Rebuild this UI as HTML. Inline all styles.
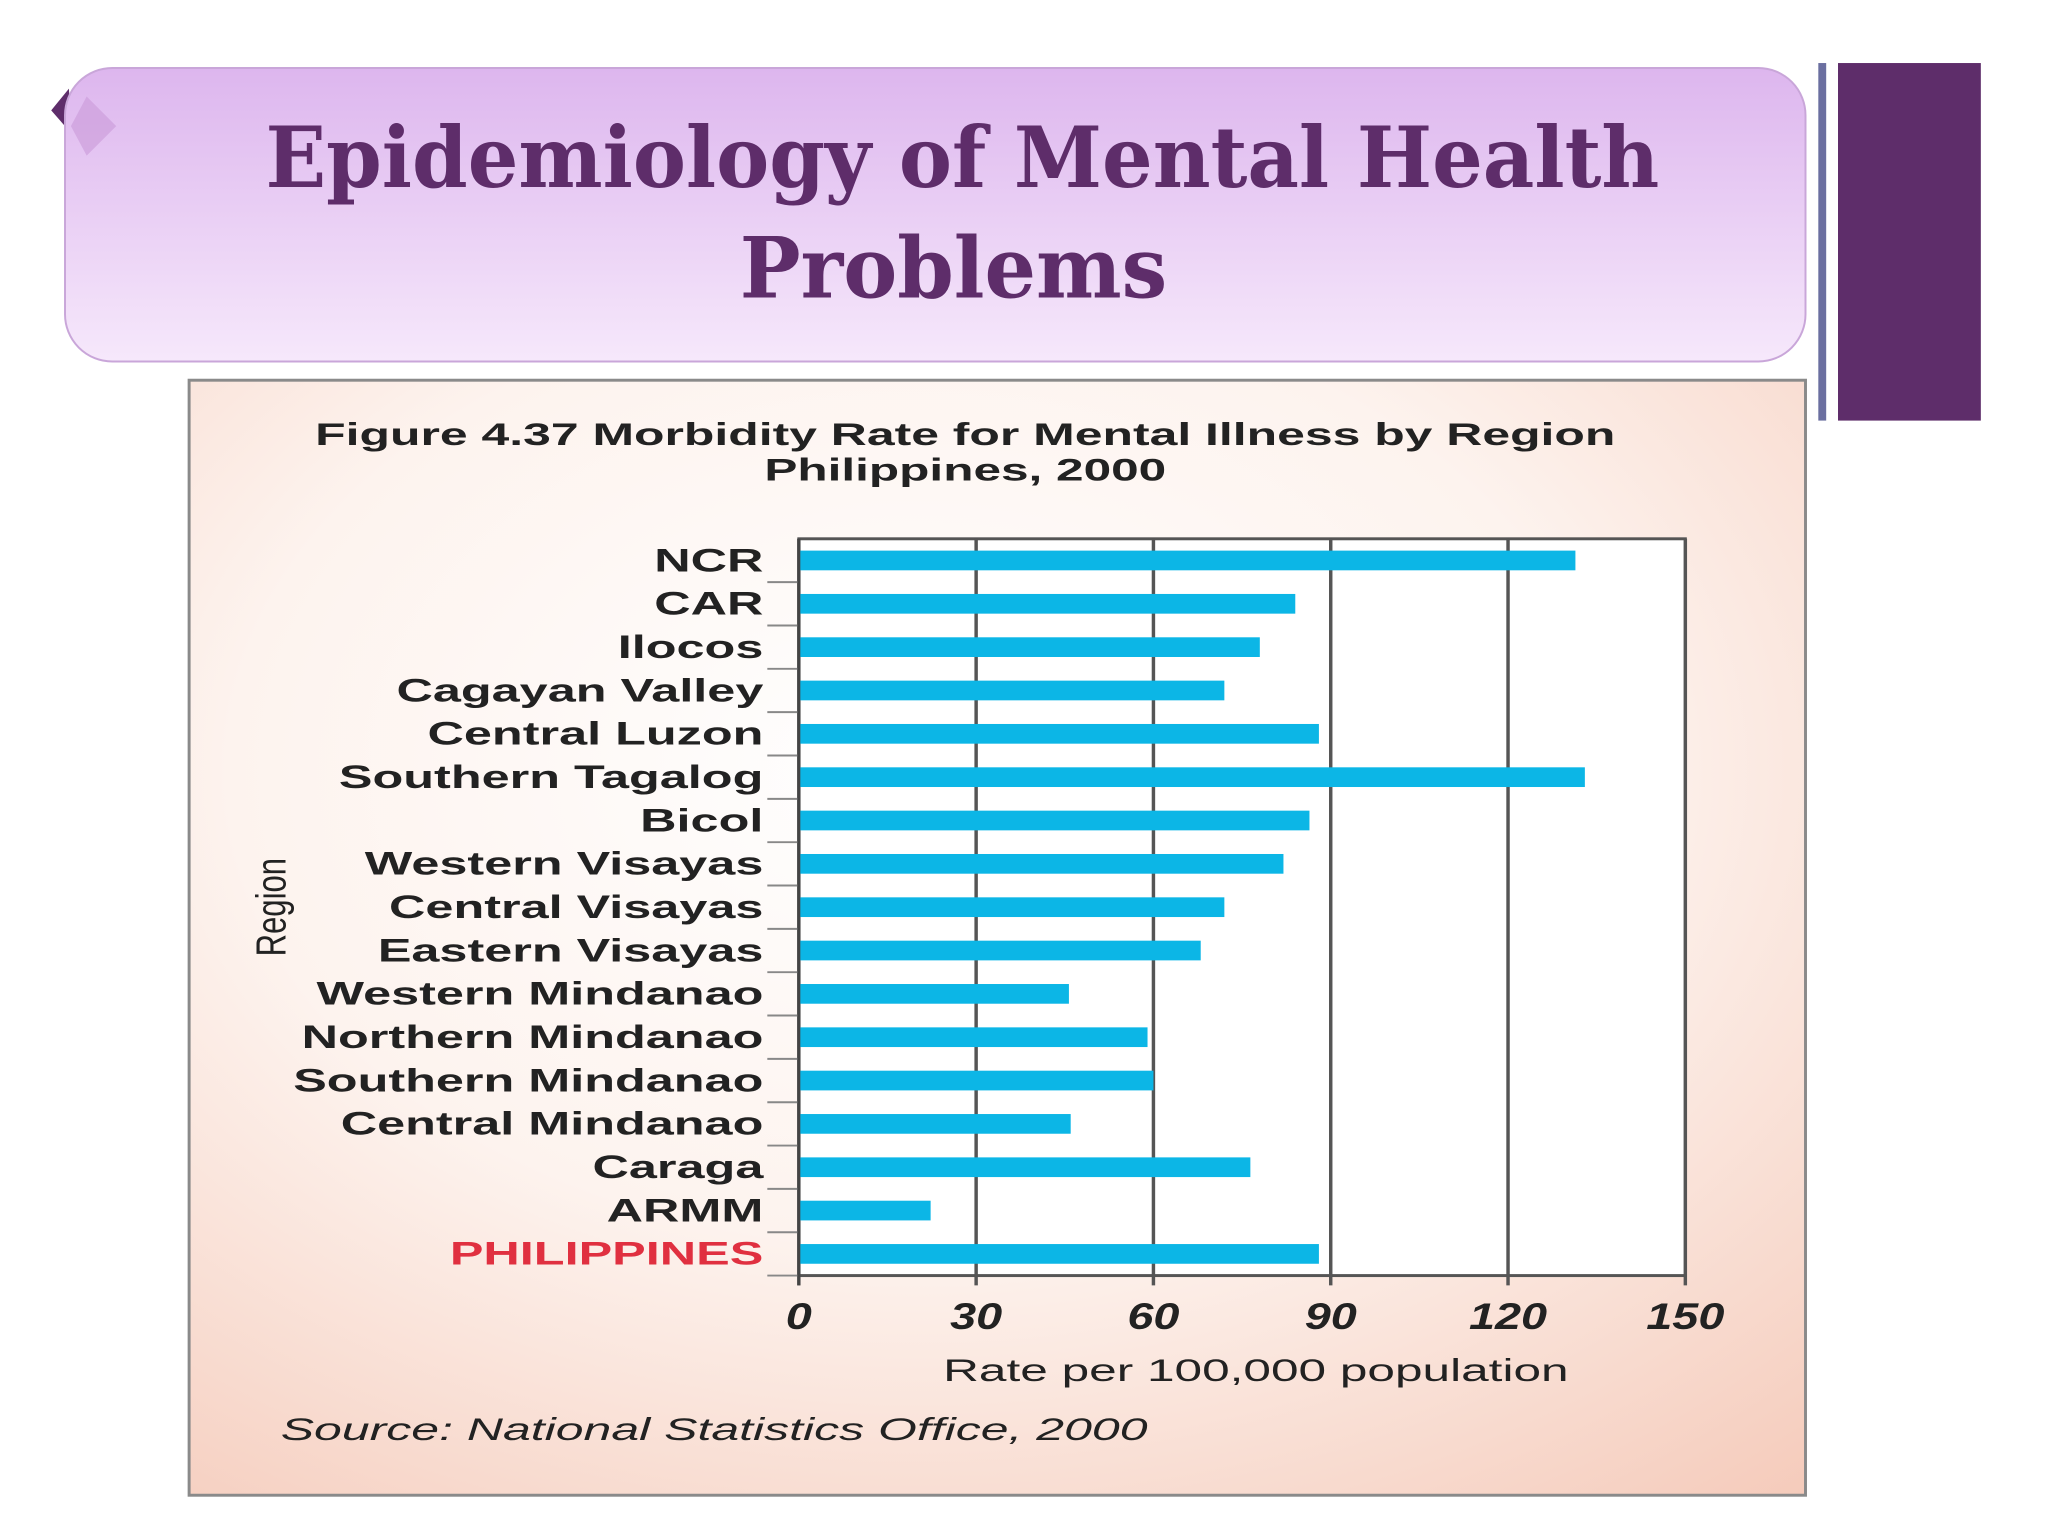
<!DOCTYPE html>
<html><head><meta charset="utf-8"><style>
html,body{margin:0;padding:0;background:#fff;}
svg{display:block;}
</style></head><body>
<svg width="2048" height="1536" viewBox="0 0 2048 1536" xmlns="http://www.w3.org/2000/svg">
<defs>
<linearGradient id="tg" x1="0" y1="0" x2="0" y2="1"><stop offset="0" stop-color="#ddb6ee"/><stop offset="1" stop-color="#f6e8fb"/></linearGradient>
<radialGradient id="pg" cx="0.45" cy="0.35" r="0.85"><stop offset="0" stop-color="#ffffff"/><stop offset="0.5" stop-color="#fdf3ee"/><stop offset="1" stop-color="#f5cbbb"/></radialGradient>
</defs>
<g transform="scale(0.985)">
<g>
<polygon points="70,90 52,112 72,135" fill="#5e2d6a"/>
<rect x="66" y="69" width="1767" height="298" rx="48" fill="url(#tg)" stroke="#c9a6d9" stroke-width="2"/>
<polygon points="88,98 118,128 88,158 72,128" fill="#c99ad9" opacity="0.6"/>
<text x="977" y="190" text-anchor="middle" font-family="'DejaVu Serif','Liberation Serif',serif" font-weight="bold" font-size="86" fill="#5e2d6a" textLength="1415" lengthAdjust="spacingAndGlyphs">Epidemiology of Mental Health</text>
<text x="968" y="302" text-anchor="middle" font-family="'DejaVu Serif','Liberation Serif',serif" font-weight="bold" font-size="86" fill="#5e2d6a" textLength="434" lengthAdjust="spacingAndGlyphs">Problems</text>
</g>
<rect x="1846" y="64" width="8" height="363" fill="#6b6fa0"/>
<rect x="1866" y="64" width="145" height="363" fill="#5e2d6a"/>
<g>
<rect x="192" y="386" width="1641" height="1132" fill="url(#pg)" stroke="#8a8a8a" stroke-width="3"/>
<text x="980" y="452" text-anchor="middle" font-family="'Liberation Sans',sans-serif" font-weight="bold" font-size="32" fill="#222" textLength="1320" lengthAdjust="spacingAndGlyphs">Figure 4.37 Morbidity Rate for Mental Illness by Region</text>
<text x="980" y="488" text-anchor="middle" font-family="'Liberation Sans',sans-serif" font-weight="bold" font-size="32" fill="#222" textLength="408" lengthAdjust="spacingAndGlyphs">Philippines, 2000</text>
<g id="plot"></g>
<text x="1275" y="1402" text-anchor="middle" font-family="'Liberation Sans',sans-serif" font-size="32" fill="#222" textLength="635" lengthAdjust="spacingAndGlyphs">Rate per 100,000 population</text>
<text transform="translate(290,921) rotate(-90)" text-anchor="middle" font-family="'Liberation Sans',sans-serif" font-size="42" fill="#222" textLength="100" lengthAdjust="spacingAndGlyphs">Region</text>
<text x="285" y="1462" font-family="'Liberation Sans',sans-serif" font-style="italic" font-size="32" fill="#222" textLength="880" lengthAdjust="spacingAndGlyphs">Source: National Statistics Office, 2000</text>
</g>
</g>
</svg>
<script>
const categories = ["NCR","CAR","Ilocos","Cagayan Valley","Central Luzon","Southern Tagalog","Bicol","Western Visayas","Central Visayas","Eastern Visayas","Western Mindanao","Northern Mindanao","Southern Mindanao","Central Mindanao","Caraga","ARMM","PHILIPPINES"];
const values = [131.4,84,78,72,88,133,86.4,82,72,68,45.7,59,60,46,76.4,22.3,88];
const xTicks = [0,30,60,90,120,150];
const NS="http://www.w3.org/2000/svg";
const plot=document.getElementById('plot');
const L=811,R=1711,T=547,B=1295,XMAX=150;
const xs=v=>L+(v/XMAX)*(R-L);
const step=(B-T)/categories.length;
const ys=i=>T+step*(i+0.5);
function mk(tag,attrs){const e=document.createElementNS(NS,tag);for(const k in attrs)e.setAttribute(k,attrs[k]);plot.appendChild(e);return e;}
const bg=mk('rect',{x:L,y:T,width:R-L,height:B-T,fill:'#fff',stroke:'#555','stroke-width':3});


xTicks.forEach(t=>{
  const g=mk('line',{x1:xs(t),x2:xs(t),y1:T,y2:B+10,stroke:'#555','stroke-width':3.5});
  
  
  const tx=mk('text',{x:xs(t),y:B+54,'text-anchor':'middle','font-family':"'Liberation Sans',sans-serif",'font-weight':'bold','font-style':'italic','font-size':38,fill:'#222'});
  tx.textContent=t;
  
  
  const w=tx.getComputedTextLength();
  if(w>0){tx.setAttribute('textLength',w*1.25);tx.setAttribute('lengthAdjust','spacingAndGlyphs');}
});
categories.forEach((c,i)=>{
  const y=ys(i);
  const tk=mk('line',{x1:L-32,x2:L,y1:y+step/2,y2:y+step/2,stroke:'#888','stroke-width':2});
  
  
  const b=mk('rect',{x:L,y:y-10,width:xs(values[i])-L,height:20,fill:'#0cb6e6'});
  
  
  const lb=mk('text',{x:L-36,y:y+11,'text-anchor':'end','font-family':"'Liberation Sans',sans-serif",'font-weight':'bold','font-size':33,fill:c==='PHILIPPINES'?'#e03040':'#222'});
  lb.textContent=c;
  
  
  const w=lb.getComputedTextLength();
  if(w>0){lb.setAttribute('textLength',w*1.55);lb.setAttribute('lengthAdjust','spacingAndGlyphs');}
});
const ax=mk('line',{x1:L,x2:L,y1:T,y2:B+10,stroke:'#444','stroke-width':3});


</script>
</body></html>
